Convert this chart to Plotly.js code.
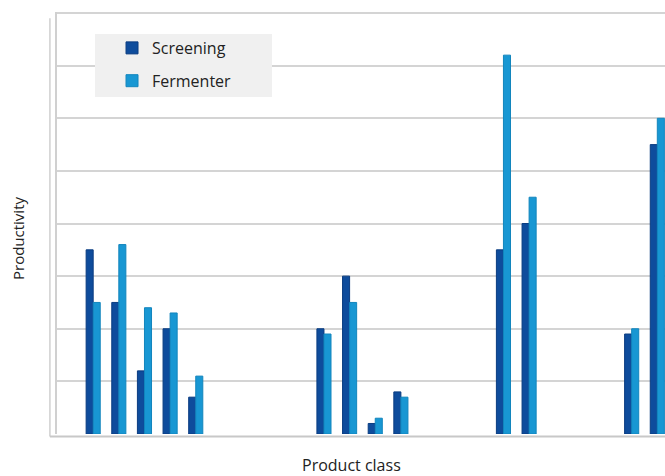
<!DOCTYPE html>
<html>
<head>
<meta charset="utf-8">
<script src="https://cdn.plot.ly/plotly-3.0.1.min.js"></script>
<style>html,body{margin:0;padding:0;background:#fff;}#chart{width:665px;height:476px;}</style>
</head>
<body>
<div id="chart"></div>
<script>
// Category slots (unlabelled in the original); empty slots separate the groups
const categories = ["c1","c2","c3","c4","c5","c6","c7","c8","c9","c10","c11","c12","c13","c14","c15","c16","c17","c18","c19","c20","c21","c22","c23"];
const screening = [3.5, 2.5, 1.2, 2.0, 0.7, null, null, null, null, 2.0, 3.0, 0.2, 0.8, null, null, null, 3.5, 4.0, null, null, null, 1.9, 5.5];
const fermenter = [2.5, 3.6, 2.4, 2.3, 1.1, null, null, null, null, 1.9, 2.5, 0.3, 0.7, null, null, null, 7.2, 4.5, null, null, null, 2.0, 6.0];
const seriesNames = ["Screening", "Fermenter"];
const xTitle = "Product class";
const yTitle = "Productivity";

const font = "Open Sans, Liberation Sans, sans-serif";
const traces = [
  {type: "bar", name: seriesNames[0], legendgroup: "a", x: categories, y: screening,
   marker: {color: "#0E4C9C", line: {color: "#0A3C80", width: 1}}},
  {type: "bar", name: seriesNames[1], legendgroup: "b", x: categories, y: fermenter,
   marker: {color: "#1897D3", line: {color: "#1285BD", width: 1}}}
];
const layout = {
  width: 665, height: 476,
  margin: {l: 56, r: 0, t: 12, b: 42},
  paper_bgcolor: "#ffffff", plot_bgcolor: "#ffffff",
  barmode: "group", bargap: 0.45, bargroupgap: 0,
  showlegend: true,
  legend: {x: 0.092, y: 0.955, xanchor: "left", yanchor: "top",
    bgcolor: "rgba(0,0,0,0)", borderwidth: 0,
    font: {family: font, size: 16, color: "#222"},
    itemwidth: 30, tracegroupgap: 9, traceorder: "grouped"},
  xaxis: {type: "category", range: [-1.45, 22.3], showticklabels: false, ticks: "",
    showgrid: false, zeroline: false, showline: false},
  yaxis: {range: [0, 8.02], dtick: 1, showticklabels: false, ticks: "",
    showgrid: true, gridcolor: "#D4D4D4", gridwidth: 2, zeroline: false, showline: false},
  annotations: [
    {text: xTitle, xref: "paper", yref: "paper", x: (351 - 56) / 609, y: -(465 - 434) / 422,
     xanchor: "center", yanchor: "middle", showarrow: false,
     font: {family: font, size: 16, color: "#222"}},
    {text: yTitle, xref: "paper", yref: "paper", x: -(56 - 18) / 609, y: 1 - (239 - 12) / 422,
     xanchor: "center", yanchor: "middle", showarrow: false, textangle: -90,
     font: {family: font, size: 15, color: "#222"}}
  ],
  shapes: [
    {type: "rect", xref: "paper", yref: "paper", layer: "above", x0: (95 - 56) / 609, x1: (272 - 56) / 609,
     y0: 1 - (97 - 12) / 422, y1: 1 - (34 - 12) / 422, fillcolor: "#F0F0F0", line: {width: 0}},
    {type: "line", xref: "paper", yref: "paper", x0: 0, x1: 0, y0: 0, y1: 1, line: {color: "#D0D0D0", width: 2}},
    {type: "line", xref: "paper", yref: "paper", x0: -0.01, x1: -0.01, y0: -0.006, y1: 0.985, line: {color: "#D0D0D0", width: 1.5}},
    {type: "line", xref: "paper", yref: "paper", x0: -0.01, x1: 1, y0: -0.006, y1: -0.006, line: {color: "#C8C8C8", width: 2}}
  ]
};
Plotly.newPlot("chart", traces, layout, {displayModeBar: false, staticPlot: true});
</script>
</body>
</html>
